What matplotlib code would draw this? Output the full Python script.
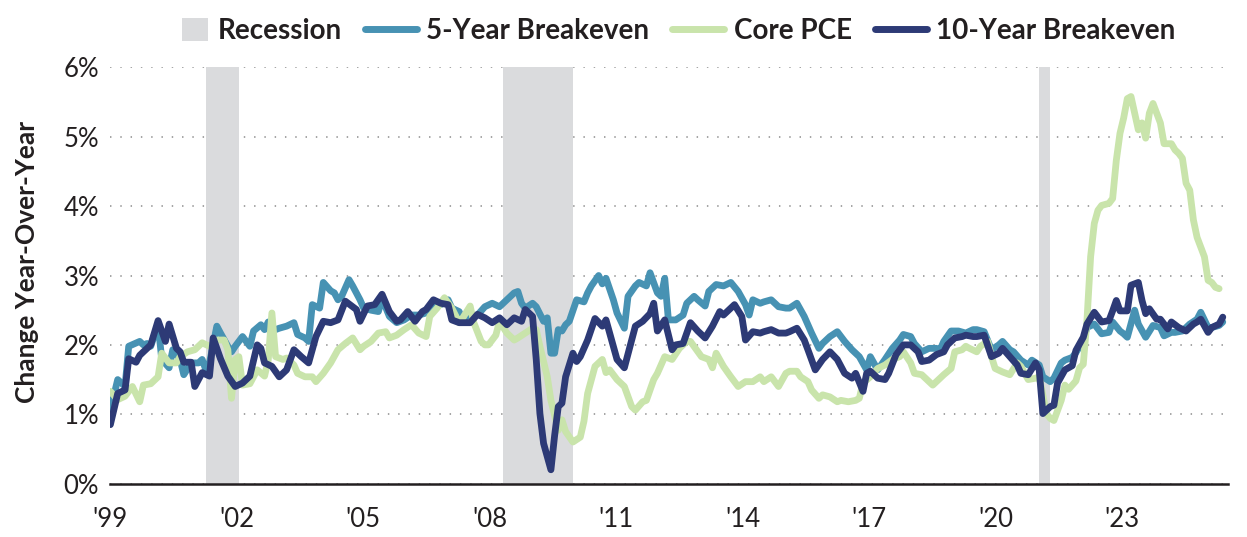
import numpy as np
import matplotlib
matplotlib.use("Agg")
import matplotlib.pyplot as plt
from matplotlib.lines import Line2D
from matplotlib.patches import Patch, Rectangle
from matplotlib.legend_handler import HandlerPatch

# x values are months since Jan 1999, y values in % year-over-year
be5_m = [0, 2, 4, 5, 8, 9, 10, 11, 13, 14, 16, 17, 19, 20, 22, 24, 25, 26, 27, 29, 30, 32, 33, 34, 36, 38, 39, 41, 42, 43,
         44, 46, 48, 50, 51, 53, 54, 55, 57, 58, 60, 61, 62, 63, 65, 66, 68, 69, 71, 73, 74, 76, 78, 80, 82, 84,
         86, 87, 88, 90, 92, 93, 95, 96, 97, 100, 102, 104, 106, 108, 110, 111, 112, 113, 115, 116, 118, 119, 120, 121,
         122, 123, 124, 125, 127, 129, 130, 131, 133, 134, 135, 137, 138, 140, 141, 143, 144, 146, 147, 149, 150, 151,
         152, 154, 156, 157, 159, 160, 162, 163, 165, 167, 169, 171, 173, 174, 175, 177, 178, 180, 182, 184, 185, 187,
         189, 191, 193, 194, 196, 198, 200, 202, 204, 206, 207, 209, 211, 213, 215, 216, 218, 219, 221, 223, 225, 226,
         227, 229, 231, 233, 235, 236, 238, 240, 242, 243, 245, 246, 248, 250, 251, 253, 254, 256, 257, 259, 260, 262,
         263, 265, 266, 268, 270, 272, 273, 275, 276, 277, 279, 280, 282, 284, 286, 287, 289, 290, 292, 294, 296, 297,
         299, 300, 302, 303]
be5_v = [1.06, 1.5, 1.4, 1.98, 2.05, 2.0, 2.02, 1.98, 2.3, 1.79, 1.67, 1.93, 1.79, 1.57, 1.74, 1.74, 1.79, 1.64, 1.74,
         2.27, 2.17, 1.98, 1.9, 1.98, 2.12, 1.98, 2.2, 2.29, 2.22, 2.33,
         2.2, 2.24, 2.27, 2.32, 2.15, 2.1, 2.05, 2.58, 2.53, 2.9, 2.78, 2.75, 2.65, 2.7, 2.94, 2.85, 2.65, 2.53, 2.5,
         2.48, 2.67, 2.41, 2.32, 2.36, 2.43, 2.43,
         2.46, 2.53, 2.6, 2.58, 2.65, 2.53, 2.48, 2.36, 2.41, 2.43, 2.55, 2.6, 2.55, 2.65, 2.75, 2.77, 2.6, 2.53, 2.6,
         2.55, 2.34, 2.39, 1.88, 1.88,
         2.22, 2.2, 2.29, 2.34, 2.65, 2.62, 2.75, 2.85, 3.0, 2.88, 2.96, 2.65, 2.46, 2.24, 2.7, 2.85, 2.9, 2.85, 3.04,
         2.75, 2.7, 2.96,
         2.36, 2.36, 2.43, 2.6, 2.7, 2.65, 2.56, 2.77, 2.87, 2.85, 2.9, 2.77, 2.58, 2.43, 2.65, 2.6, 2.62, 2.65, 2.55,
         2.53, 2.53, 2.6,
         2.41, 2.17, 1.95, 2.02, 2.12, 2.19, 2.05, 1.93, 1.83, 1.64, 1.83, 1.64, 1.79, 1.95, 2.07, 2.15, 2.12, 2.02,
         1.9, 1.95, 1.95, 1.93,
         2.05, 2.2, 2.2, 2.17, 2.22, 2.22, 2.19, 1.93, 2.0, 2.05, 1.93, 1.9, 1.78, 1.71, 1.78, 1.71, 1.54, 1.47, 1.52,
         1.74, 1.78, 1.82,
         1.89, 2.06, 2.25, 2.3, 2.16, 2.18, 2.33, 2.2, 2.16, 2.11, 2.5, 2.3, 2.11, 2.28, 2.25, 2.13, 2.18, 2.18, 2.2,
         2.3, 2.37, 2.47,
         2.25, 2.25, 2.28, 2.33]

pce_m = [0, 2, 4, 6, 8, 9, 11, 13, 14, 16, 18, 19, 21, 23, 25, 27, 29, 31, 32, 33, 34, 35, 36, 38, 40, 42, 43, 44, 45,
         47, 48, 50, 51, 53, 55, 56, 58, 60, 62, 64, 66, 68, 69, 71, 73, 75, 76, 78, 80, 82, 84,
         86, 87, 89, 91, 93, 95, 96, 98, 99, 101, 102, 103, 105, 106, 108, 110, 111, 113, 115, 116, 117, 119, 120, 122,
         123, 124, 126, 128,
         129, 130, 132, 134, 135, 136, 138, 140, 142, 143, 145, 146, 148, 149, 151, 153, 155, 157, 158, 161, 163, 164,
         165, 167, 169, 171, 173,
         175, 177, 178, 180, 182, 184, 185, 187, 188, 190, 191, 193, 194, 196, 198, 199, 201, 203, 204, 205, 207, 209,
         211, 213, 215, 216,
         218, 219, 221, 222, 224, 226, 227, 229, 230, 232, 233, 234, 236, 237, 239, 240, 241, 243, 245, 247, 248, 250,
         252, 253, 255, 256, 257, 259, 260,
         261, 263, 264, 265, 266, 267, 268, 269, 270, 272, 273, 274, 275, 276, 277, 278, 279, 280, 281, 282, 283, 284,
         286, 287, 289, 290, 291, 292, 293, 294, 295, 296, 298, 299, 300, 301, 302]
pce_v = [1.33, 1.21, 1.26, 1.4, 1.18, 1.42, 1.44, 1.54, 1.88, 1.74, 1.74, 1.83, 1.9, 1.93, 2.03, 1.98, 2.07, 2.07, 1.93,
         1.23, 1.79, 1.83, 1.42, 1.44, 1.64, 1.55, 1.78, 2.46, 1.83,
         1.79, 1.81, 1.71, 1.59, 1.54, 1.54, 1.47, 1.59, 1.74, 1.93, 2.02, 2.1, 1.93, 1.98, 2.05, 2.17, 2.19, 2.1, 2.14,
         2.22, 2.29, 2.17,
         2.12, 2.41, 2.53, 2.68, 2.53, 2.32, 2.39, 2.56, 2.32, 2.05, 2.0, 2.0, 2.14, 2.34, 2.17, 2.07, 2.1, 2.17, 2.24,
         2.22, 1.98, 1.54, 1.2, 0.77,
         0.92, 0.75, 0.6, 0.67,
         0.9, 1.3, 1.69, 1.79, 1.6, 1.64, 1.5, 1.4, 1.11, 1.06, 1.18, 1.2, 1.5, 1.59, 1.83, 1.79, 1.95, 2.05, 2.05, 1.83,
         1.79, 1.67,
         1.88, 1.69, 1.54, 1.4, 1.47,
         1.47, 1.54, 1.47, 1.54, 1.4, 1.59, 1.62, 1.62, 1.54, 1.47, 1.35, 1.23, 1.28, 1.25, 1.18, 1.2, 1.18, 1.2, 1.23,
         1.45, 1.54, 1.66,
         1.71, 1.79, 1.83, 1.9,
         1.74, 1.59, 1.57, 1.52, 1.42, 1.52, 1.57, 1.66, 1.9, 1.93, 1.98, 1.95, 1.9, 1.98, 2.05, 1.83, 1.66, 1.61, 1.57,
         1.74, 1.69, 1.5,
         1.52, 1.54, 1.01, 0.94, 0.91, 1.2, 1.42,
         1.36, 1.48, 1.67, 1.72, 2.35, 3.27, 3.75, 3.94, 4.01, 4.04, 4.11, 4.66, 5.05, 5.27, 5.55, 5.58, 5.34, 5.1, 5.2,
         4.98, 5.34, 5.48,
         5.2, 4.9, 4.9, 4.81, 4.76, 4.69, 4.33, 4.23, 3.8, 3.55, 3.27, 2.93, 2.9, 2.83, 2.81]

be10_m = [0, 2, 4, 5, 7, 8, 10, 11, 13, 14, 15, 16, 18, 19, 20, 22, 23, 25, 27, 28, 30, 32, 34, 36, 38, 40, 41,
          42, 44, 46, 48, 50, 52, 54, 56, 58, 60, 62, 64, 67, 68, 70, 72, 74, 76, 78, 79, 81, 83, 85,
          86, 88, 90, 92, 93, 95, 98, 100, 102, 104, 106, 108, 110, 112, 113, 115, 116, 117, 118, 120, 121, 122, 123,
          124, 126, 127, 128, 130, 132,
          134, 135, 137, 138, 140, 142, 143, 145, 147, 148, 149, 151, 153, 154, 156, 158, 160, 162, 164, 166, 167, 169,
          170, 172, 173,
          175, 177, 178, 180, 182, 184, 185, 187, 189, 190, 192, 194, 196, 198, 200, 202, 203, 205, 206, 207, 209, 211,
          212, 214, 216,
          218, 220, 221, 223, 225, 227, 228, 230, 232, 233, 235, 236, 238, 240, 242, 243, 245, 247, 248, 250, 252, 253,
          254, 256, 257, 258, 260,
          262, 263, 265, 266, 268, 270, 272, 273, 274, 275, 277, 278, 280, 281, 282, 283, 285, 286, 288, 289, 291, 293,
          295, 296, 297, 299, 300, 302, 303]
be10_v = [0.85, 1.3, 1.35, 1.8, 1.75, 1.85, 1.95, 2.0, 2.35, 2.2, 2.05, 2.3, 1.95, 1.9, 1.75, 1.75, 1.4, 1.6, 1.55, 2.1,
          1.8, 1.55, 1.4, 1.45, 1.55, 2.0, 1.95,
          1.74, 1.69, 1.54, 1.64, 1.93, 1.83, 1.74, 2.12, 2.34, 2.32, 2.36, 2.63, 2.51, 2.34, 2.56, 2.58, 2.73, 2.48,
          2.34, 2.36, 2.48, 2.34, 2.48,
          2.51, 2.65, 2.6, 2.58, 2.36, 2.32, 2.32, 2.44, 2.39, 2.32, 2.39, 2.29, 2.39, 2.34, 2.51, 2.41, 1.79, 1.01,
          0.58, 0.2, 0.69, 1.11, 1.16,
          1.54, 1.88, 1.76, 1.83, 2.07, 2.38,
          2.27, 2.36, 1.98, 1.79, 1.67, 2.07, 2.27, 2.34, 2.45, 2.6, 2.2, 2.36, 1.93, 2.0, 2.02, 2.32, 2.2, 2.1, 2.27,
          2.48, 2.43, 2.53,
          2.58, 2.41, 2.07,
          2.19, 2.17, 2.19, 2.22, 2.17, 2.17, 2.19, 2.24, 2.07, 1.93, 1.64, 1.79, 1.9, 1.79, 1.59, 1.52, 1.59, 1.33,
          1.59, 1.62, 1.52, 1.5,
          1.59, 1.86, 2.0,
          2.0, 1.9, 1.76, 1.78, 1.86, 1.9, 2.0, 2.1, 2.12, 2.14, 2.12, 2.12, 2.14, 1.83, 1.88, 1.95, 1.83, 1.71, 1.59,
          1.57, 1.74, 1.64,
          1.01, 1.11, 1.13, 1.45, 1.64,
          1.7, 1.92, 2.11, 2.3, 2.47, 2.33, 2.35, 2.49, 2.64, 2.49, 2.49, 2.86, 2.9, 2.64, 2.45, 2.52, 2.37, 2.37, 2.23,
          2.33, 2.25, 2.2,
          2.3, 2.33, 2.37, 2.18, 2.25, 2.3, 2.4]

rec_start = ['2001-03', '2007-12', '2020-02']
rec_end = ['2001-12', '2009-07', '2020-05']
tick_labels = ["'99", "'02", "'05", "'08", "'11", "'14", "'17", "'20", "'23"]
y_ticks = [0, 1, 2, 3, 4, 5, 6]


def month_index(s):
    y, m = s.split('-')
    return (int(y) - 1999) * 12 + int(m) - 1


c_rec = '#dadbdd'
c_be5 = '#4792b3'
c_pce = '#c9e4ab'
c_be10 = '#2d3a76'
c_txt = '#231f20'

plt.rcParams['font.family'] = ['Lato', 'DejaVu Sans']

fig = plt.figure(figsize=(12.47, 5.37), dpi=100)
ax = fig.add_axes([0.0885, 0.0994, 0.8962, 0.7751])

for s, e in zip(rec_start, rec_end):
    ax.axvspan(month_index(s), month_index(e), color=c_rec, lw=0, zorder=1)

kw = dict(lw=4.9, solid_joinstyle='round', solid_capstyle='round')
ax.plot(be5_m, be5_v, color=c_be5, zorder=3, **kw)
ax.plot(pce_m, pce_v, color=c_pce, zorder=4, **kw)
ax.plot(be10_m, be10_v, color=c_be10, zorder=5, **kw)

ax.set_xlim(0, 304.4)
ax.set_ylim(0, 6)
ax.set_yticks(y_ticks)
ax.set_yticklabels([f'{v}%' for v in y_ticks])
ax.set_xticks(np.linspace(0, 275.6, len(tick_labels)))
ax.set_xticklabels(tick_labels)
ax.tick_params(axis='both', length=0, labelsize=18.5, colors=c_txt)
ax.tick_params(axis='y', pad=8)
ax.tick_params(axis='x', pad=17)

ax.set_axisbelow(True)
ax.grid(axis='y', color='#9d9d9d', linestyle=(0, (0.8, 4.9)), lw=1.3)
for side in ['top', 'right', 'left']:
    ax.spines[side].set_visible(False)
ax.spines['bottom'].set_color(c_txt)
ax.spines['bottom'].set_linewidth(1.8)
ax.spines['bottom'].set_zorder(6)

fig.text(27 / 1247, 1 - 262 / 537, 'Change Year-Over-Year', rotation=90, ha='center', va='center',
         fontsize=19, fontweight='bold', color=c_txt)


class SquareHandler(HandlerPatch):
    def create_artists(self, legend, orig_handle, xdescent, ydescent, width, height, fontsize, trans):
        w = fontsize * 0.95
        h = fontsize * 0.85
        r = Rectangle((-xdescent + width - w, -ydescent + height / 2 - h / 2), w, h,
                      facecolor=orig_handle.get_facecolor(), lw=0, transform=trans)
        return [r]


rec_patch = Patch(facecolor=c_rec)
handles = [rec_patch,
           Line2D([], [], color=c_be5, lw=5, solid_capstyle='round'),
           Line2D([], [], color=c_pce, lw=5, solid_capstyle='round'),
           Line2D([], [], color=c_be10, lw=5, solid_capstyle='round')]
labels = ['Recession', '5-Year Breakeven', 'Core PCE', '10-Year Breakeven']
leg = fig.legend(handles, labels, loc='center', bbox_to_anchor=(0.534, 0.942), ncol=4, frameon=False,
                 prop=dict(size=20, weight='bold'), handlelength=1.87, handletextpad=0.33, columnspacing=0.84,
                 handler_map={rec_patch: SquareHandler()})
for t in leg.get_texts():
    t.set_color(c_txt)

fig.savefig('out.png', dpi=100)
